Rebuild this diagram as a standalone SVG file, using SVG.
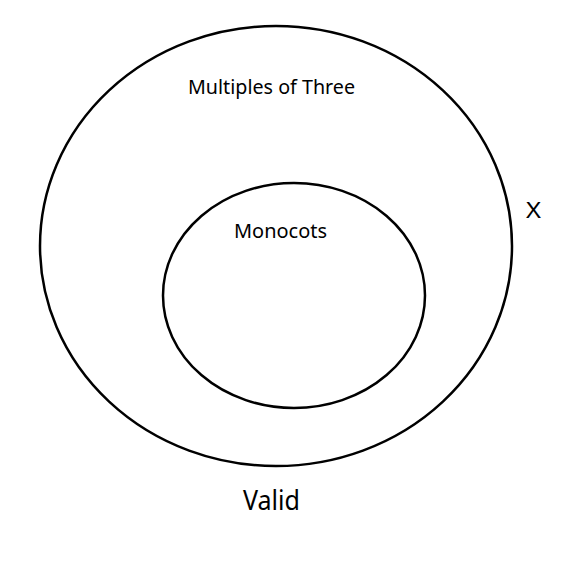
<svg xmlns="http://www.w3.org/2000/svg" width="572" height="563" viewBox="0 0 572 563">
<style>
.set{fill:none;stroke:#000;stroke-width:2.5}
.lbl{font-family:"Noto Sans","Open Sans","Liberation Sans",sans-serif;fill:#000}
</style>
<rect width="572" height="563" fill="#fff"/>
<g id="outer">
<ellipse class="set" cx="276" cy="246" rx="236" ry="220"/>
<text class="lbl" x="188" y="94" font-size="19" textLength="167" lengthAdjust="spacingAndGlyphs">Multiples of Three</text>
</g>
<g id="inner">
<ellipse class="set" cx="294" cy="295.5" rx="131" ry="112.5"/>
<text class="lbl" x="234" y="238" font-size="19" textLength="93" lengthAdjust="spacingAndGlyphs">Monocots</text>
</g>
<g id="labelX">
<text class="lbl" x="526" y="218" font-size="22" textLength="15" lengthAdjust="spacingAndGlyphs">X</text>
</g>
<g id="labelValid">
<text class="lbl" x="243" y="510" font-size="27" textLength="57" lengthAdjust="spacingAndGlyphs">Valid</text>
</g>
<g id="connectors"></g>
</svg>
